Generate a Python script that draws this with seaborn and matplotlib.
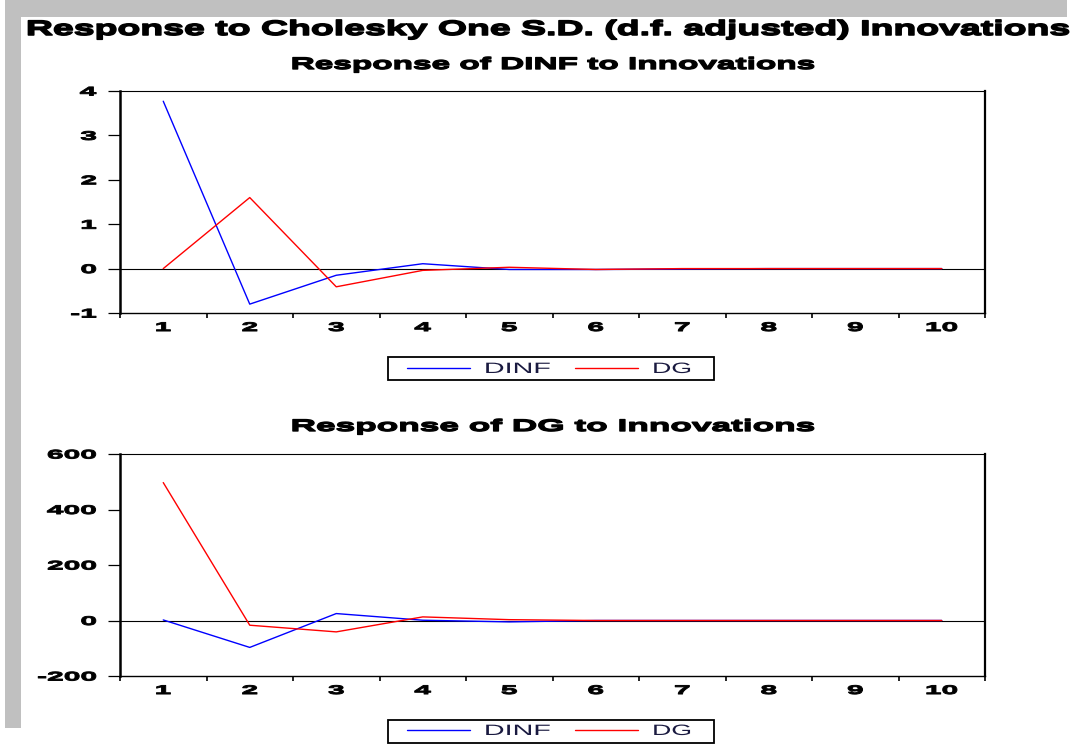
import numpy as np
import pandas as pd
import seaborn as sns
import matplotlib
matplotlib.use("Agg")
import matplotlib.pyplot as plt
from matplotlib.patheffects import AbstractPathEffect
from matplotlib.transforms import Affine2D
from matplotlib.lines import Line2D
from matplotlib.legend_handler import HandlerLine2D
from matplotlib.patches import Rectangle
from matplotlib.font_manager import FontProperties

# ---------------- data ----------------
periods = [1, 2, 3, 4, 5, 6, 7, 8, 9, 10]
shocks = ["DINF", "DG"]
# Response of DINF
dinf_resp_to_dinf = [3.77, -0.80, -0.15, 0.11, -0.02, -0.02, -0.01, 0.00, 0.00, 0.00]
dinf_resp_to_dg = [0.00, 1.60, -0.41, -0.04, 0.03, -0.02, 0.00, 0.00, 0.00, 0.00]
# Response of DG
dg_resp_to_dinf = [2.0, -97.0, 25.0, 1.0, -5.0, 0.0, 0.0, 0.0, 0.0, 0.0]
dg_resp_to_dg = [497.0, -17.0, -41.0, 13.0, 3.0, 0.0, 0.0, 0.0, 0.0, 0.0]

main_title = "Response to Cholesky One S.D. (d.f. adjusted) Innovations"
panel_titles = ["Response of DINF to Innovations", "Response of DG to Innovations"]
yticks_top = [-1, 0, 1, 2, 3, 4]
yticks_bottom = [-200, 0, 200, 400, 600]
ylim_top = (-1, 4)
ylim_bottom = (-200, 600)
palette = {"DINF": "#0000FF", "DG": "#FF0000"}

# ---------------- style ----------------
sns.set_theme(style="white")
plt.rcParams["font.family"] = ["Liberation Sans", "DejaVu Sans"]
plt.rcParams["axes.unicode_minus"] = False

W, H = 1085, 747
DPI = 100


class HStretch(AbstractPathEffect):
    """Stretch glyphs horizontally about an anchor of the ink box,
    optionally thickening them with a stroke of the same colour."""

    def __init__(self, sx, anchor="center", weight=0.0):
        super().__init__()
        self.sx = sx
        self.anchor = anchor
        self.weight = weight

    def draw_path(self, renderer, gc, tpath, affine, rgbFace=None):
        ext = tpath.get_extents()
        if self.anchor == "left":
            cx = ext.x0
        elif self.anchor == "right":
            cx = ext.x1
        else:
            cx = 0.5 * (ext.x0 + ext.x1)
        pre = Affine2D().translate(-cx, 0).scale(self.sx, 1).translate(cx, 0)
        tr = (pre + affine).frozen()
        if self.weight > 0 and rgbFace is not None:
            gc0 = renderer.new_gc()
            gc0.copy_properties(gc)
            gc0.set_linewidth(renderer.points_to_pixels(self.weight))
            gc0.set_foreground(rgbFace)
            gc0.set_joinstyle("round")
            renderer.draw_path(gc0, tpath, tr, rgbFace)
            gc0.restore()
        else:
            renderer.draw_path(gc, tpath, tr, rgbFace)


class FrameSpan(AbstractPathEffect):
    """Draw a frame spanning given pixel x-range."""

    def __init__(self, x_left, x_right):
        super().__init__()
        self.x_left = x_left
        self.x_right = x_right

    def draw_path(self, renderer, gc, tpath, affine, rgbFace=None):
        p = affine.transform_path(tpath)
        ext = p.get_extents()
        k = (self.x_right - self.x_left) / max(ext.width, 1e-6)
        t = Affine2D().translate(-ext.x0, 0).scale(k, 1).translate(self.x_left, 0)
        renderer.draw_path(gc, p, t, rgbFace)


fig = plt.figure(figsize=(W / DPI, H / DPI), dpi=DPI)
fig.patch.set_facecolor("white")

# gray border bands
fig.add_artist(Rectangle((5 / W, 1 - 17 / H), 1062 / W, 17 / H, transform=fig.transFigure,
                         facecolor="#C0C0C0", edgecolor="none", zorder=0))
fig.add_artist(Rectangle((5 / W, 1 - 728 / H), 16 / W, 728 / H, transform=fig.transFigure,
                         facecolor="#C0C0C0", edgecolor="none", zorder=0))

axes_px = [(120, 91, 985, 313), (120, 454, 985, 676)]
series = [(dinf_resp_to_dinf, dinf_resp_to_dg), (dg_resp_to_dinf, dg_resp_to_dg)]
ylims = [ylim_top, ylim_bottom]
yticks = [yticks_top, yticks_bottom]
title_baselines = [69, 431]
legend_centers = [369, 731]

TICK_SX = 2.4
axes = []
for i in range(2):
    x0, y0, x1, y1 = axes_px[i]
    ax = fig.add_axes([x0 / W, 1 - y1 / H, (x1 - x0) / W, (y1 - y0) / H])
    axes.append(ax)
    a, b = series[i]
    df = pd.DataFrame({
        "period": periods + periods,
        "response": list(a) + list(b),
        "shock": ["DINF"] * len(periods) + ["DG"] * len(periods),
    })
    ax.axhline(0, color="black", lw=0.8, zorder=1.5)
    sns.lineplot(data=df, x="period", y="response", hue="shock", hue_order=shocks,
                 palette=palette, ax=ax, legend=False, linewidth=1.0, errorbar=None,
                 zorder=2)
    ax.set_xlim(0.5, 10.5)
    ax.set_ylim(*ylims[i])
    ax.set_xlabel("")
    ax.set_ylabel("")
    major = np.arange(0.5, 11.0, 1.0)
    ax.set_xticks(major, labels=[""] * len(major))
    ax.set_xticks(periods, labels=[str(p) for p in periods], minor=True)
    ax.set_yticks(yticks[i], labels=[str(v) for v in yticks[i]])
    ax.tick_params(axis="x", which="major", bottom=True, length=3.5, width=1.2,
                   direction="out", color="black")
    ax.tick_params(axis="x", which="minor", bottom=True, length=0, pad=6.5,
                   labelsize=9, labelcolor="black")
    ax.tick_params(axis="y", which="major", left=True, length=9, width=0.9,
                   direction="out", color="black", pad=8, labelsize=9,
                   labelcolor="black")
    for lab in ax.get_xticklabels(minor=True):
        lab.set_fontweight("bold")
        lab.set_path_effects([HStretch(TICK_SX, "center", weight=0.5)])
    for lab in ax.get_yticklabels():
        lab.set_fontweight("bold")
        lab.set_path_effects([HStretch(TICK_SX, "right", weight=0.5)])
    for side, lw in [("left", 1.8), ("right", 1.6), ("top", 0.8), ("bottom", 1.0)]:
        ax.spines[side].set_visible(True)
        ax.spines[side].set_color("black")
        ax.spines[side].set_linewidth(lw)
    ax.grid(False)

# titles
t_main = fig.text(27 / W, 1 - 35 / H, main_title, ha="left", va="baseline",
                  fontsize=15, fontweight="bold", color="black")
t_panels = []
for i in range(2):
    t = fig.text(552.5 / W, 1 - title_baselines[i] / H, panel_titles[i], ha="center",
                 va="baseline", fontsize=12, fontweight="bold", color="black")
    t_panels.append(t)

fig.canvas.draw()
r = fig.canvas.get_renderer()
w = t_main.get_window_extent(r).width
t_main.set_path_effects([HStretch(1048 / w, "left", weight=0.8)])
for t in t_panels:
    w = t.get_window_extent(r).width
    t.set_path_effects([HStretch(522 / w, "center", weight=0.7)])

# legends
LEG_PT = 10.8
F = LEG_PT * DPI / 72.0
prop = FontProperties(family=["Liberation Sans"], size=LEG_PT)
wD, _, _ = r.get_text_width_height_descent("DINF", prop, False)
wG, _, _ = r.get_text_width_height_descent("DG", prop, False)
handles = [Line2D([], [], color=palette[s], lw=1.0) for s in shocks]
for i in range(2):
    leg = fig.legend(handles, shocks, loc="center left",
                     bbox_to_anchor=(402.5 / W, 1 - legend_centers[i] / H),
                     bbox_transform=fig.transFigure, ncol=2, frameon=True,
                     fancybox=False, fontsize=LEG_PT, handlelength=63 / F,
                     handletextpad=15 / F, borderpad=4.5 / F,
                     columnspacing=(90 - wD) / F, borderaxespad=0,
                     handler_map={Line2D: HandlerLine2D()})
    fr = leg.get_frame()
    fr.set_edgecolor("black")
    fr.set_linewidth(1.3)
    fr.set_facecolor("white")
    fr.set_alpha(1)
    fr.set_path_effects([FrameSpan(388, 714)])
    texts = leg.get_texts()
    texts[0].set_path_effects([HStretch(67 / wD, "left")])
    texts[1].set_path_effects([HStretch(40 / wG, "left")])
    for tx in texts:
        tx.set_color("#1a1a40")

fig.savefig("out.png", dpi=DPI)
